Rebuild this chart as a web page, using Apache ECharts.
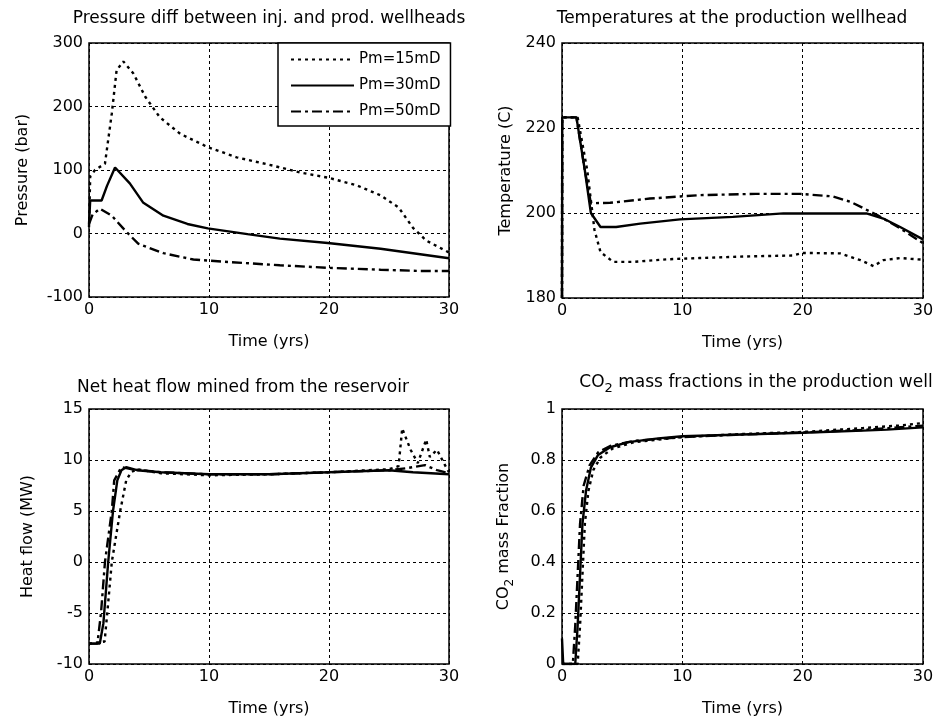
<!DOCTYPE html>
<html>
<head>
<meta charset="utf-8">
<script src="https://cdn.jsdelivr.net/npm/echarts@6/dist/echarts.min.js"></script>
<style>
  html, body { margin: 0; padding: 0; background: #fff; }
  #chart { width: 939px; height: 724px; }
</style>
</head>
<body>
<div id="chart"></div>
<script>
var chartDom = document.getElementById('chart');
var myChart = echarts.init(chartDom);
var option;

// legend names
var names = ['Pm=15mD', 'Pm=30mD', 'Pm=50mD'];

// pressure diff (bar) vs time (yrs)
var press15 = [[0, 10], [0.1, 90], [0.5, 100], [1.33, 110], [1.9, 189], [2.3, 257], [2.86, 271], [3.7, 252], [4.7, 215], [5.9, 183], [7.6, 157], [9.9, 136], [12.3, 120], [15.3, 107], [17.6, 96], [19.9, 88], [22.3, 76], [24.3, 60], [25.8, 41], [27, 9], [28.1, -11], [30, -30]];
var press30 = [[0, 15], [0.1, 52], [1.05, 52], [1.5, 75], [2.17, 104], [3.4, 79], [4.5, 49], [6.2, 28], [8.2, 15], [9.9, 8], [13.2, -1], [15.9, -8], [19.9, -15], [24.3, -24], [30, -39]];
var press50 = [[0, 15], [0.3, 30], [0.9, 39], [1.9, 28], [3, 5], [4.1, -16], [6.2, -31], [8.7, -41], [11.7, -45], [15.9, -50], [19.9, -54], [24.3, -57], [27.6, -59], [30, -59]];

// production wellhead temperature (C)
var temp15 = [[0, 180], [0.02, 222.5], [1.3, 222.5], [2.1, 210], [2.7, 196], [3.2, 190.8], [4.25, 188.5], [5.9, 188.5], [8.7, 189.1], [11.4, 189.4], [15.6, 189.8], [19.2, 190], [20, 190.6], [23.1, 190.5], [24.8, 188.9], [25.9, 187.5], [26.7, 188.9], [28.1, 189.4], [30, 189]];
var temp30 = [[0, 180], [0.02, 222.5], [1.2, 222.5], [1.9, 210], [2.4, 200], [3.2, 196.7], [4.5, 196.7], [6.5, 197.5], [9.8, 198.5], [14.2, 199.1], [18.4, 199.9], [25.3, 199.9], [26.7, 198.7], [28.1, 196.7], [30, 193.8]];
var temp50 = [[0, 180], [0.02, 222.5], [1.2, 222.5], [1.9, 210], [2.4, 202.3], [4, 202.4], [7.3, 203.4], [11.4, 204.2], [16.1, 204.5], [19.8, 204.5], [22.5, 203.9], [24, 202.6], [26.2, 199.5], [28.1, 196.4], [30, 192.9]];

// net heat flow (MW)
var heat15 = [[0, -8], [1.3, -7.8], [1.6, -4], [1.9, 0], [2.6, 5], [3.1, 8], [3.5, 8.8], [4, 9.1], [6, 8.7], [10, 8.5], [15, 8.6], [20, 8.8], [25, 9.1], [25.8, 9.4], [26.1, 13.1], [26.8, 11], [27.4, 9.7], [28.1, 12], [28.4, 10.3], [29, 11], [29.8, 9.2], [30, 8.8]];
var heat30 = [[0, -8], [0.9, -8], [1.2, -6], [1.4, -3], [1.6, 0], [2, 5], [2.36, 8], [2.7, 9], [3.1, 9.3], [4, 9], [6, 8.8], [10, 8.6], [15, 8.6], [20, 8.8], [25, 9], [27, 8.8], [30, 8.6]];
var heat50 = [[0, -8], [0.7, -8], [1, -5], [1.33, 0], [1.9, 5], [2.1, 8], [2.7, 9.3], [3.5, 9.1], [6, 8.8], [10, 8.6], [15, 8.6], [20, 8.8], [25, 9], [26.5, 9.2], [28, 9.5], [29, 9], [30, 8.7]];

// CO2 mass fraction
var co2_15 = [[0, 0], [1.3, 0], [1.5, 0.15], [1.7, 0.35], [1.9, 0.55], [2.2, 0.68], [2.6, 0.76], [3.2, 0.81], [4.2, 0.845], [6, 0.87], [10, 0.89], [15, 0.902], [20, 0.91], [25, 0.925], [28, 0.935], [30, 0.945]];
var co2_30 = [[0, 0.1], [0.1, 0], [1.1, 0], [1.3, 0.15], [1.5, 0.35], [1.7, 0.55], [2, 0.68], [2.4, 0.77], [3, 0.82], [4, 0.85], [5.5, 0.87], [8, 0.885], [10, 0.893], [15, 0.9], [20, 0.907], [25, 0.915], [27, 0.919], [30, 0.928]];
var co2_50 = [[0, 0], [0.9, 0], [1.1, 0.15], [1.3, 0.35], [1.5, 0.55], [1.8, 0.7], [2.3, 0.78], [3, 0.83], [4, 0.855], [6, 0.875], [10, 0.89], [15, 0.9], [20, 0.908], [25, 0.918], [30, 0.935]];

var font = 'DejaVu Sans';
var dashStyles = [[3, 4], 'solid', [10, 4, 3, 4]];

function mkSeries(idx, sets) {
  return sets.map(function (d, i) {
    return {
      name: names[i],
      type: 'line',
      xAxisIndex: idx,
      yAxisIndex: idx,
      data: d,
      symbol: 'none',
      color: '#000',
      lineStyle: { color: '#000', width: 2.4, type: dashStyles[i] },
      silent: true,
      animation: false
    };
  });
}

function xAx(idx) {
  return {
    type: 'value', gridIndex: idx, min: 0, max: 30, interval: 10,
    name: 'Time (yrs)', nameLocation: 'middle', nameGap: 37,
    nameTextStyle: { color: '#000', fontSize: 16, fontFamily: font },
    axisLine: { show: false },
    axisTick: { show: false },
    axisLabel: { color: '#000', fontSize: 16, fontFamily: font, margin: 5 },
    splitLine: { show: true, lineStyle: { color: '#000', type: [3, 3], width: 1 } }
  };
}

function yAx(idx, name, min, max, interval, gap, fmt) {
  return {
    type: 'value', gridIndex: idx, min: min, max: max, interval: interval,
    name: name, nameLocation: 'middle', nameRotate: 90, nameGap: gap,
    nameTextStyle: { color: '#000', fontSize: 16, fontFamily: font,
      rich: { sub: { fontSize: 12, fontFamily: font, color: '#000', padding: [12, 0, 0, 0] } } },
    axisLine: { show: false },
    axisTick: { show: false },
    axisLabel: { color: '#000', fontSize: 16, fontFamily: font, margin: 6, formatter: fmt },
    splitLine: { show: true, lineStyle: { color: '#000', type: [3, 3], width: 1 } }
  };
}

var gridStyle = { show: true, borderColor: '#000', borderWidth: 1.5, backgroundColor: '#fff' };
var titleStyle = { color: '#000', fontSize: 17, fontWeight: 'normal', fontFamily: font,
  rich: { sub: { fontSize: 13, fontFamily: font, color: '#000', padding: [12, 0, 0, 0] } } };

option = {
  backgroundColor: '#fff',
  animation: false,
  title: [
    { text: 'Pressure diff between inj. and prod. wellheads', left: 264, top: 5, textAlign: 'center', textStyle: titleStyle },
    { text: 'Temperatures at the production wellhead', left: 727, top: 5, textAlign: 'center', textStyle: titleStyle },
    { text: 'Net heat flow mined from the reservoir', left: 238, top: 374, textAlign: 'center', textStyle: titleStyle },
    { text: 'CO{sub|2} mass fractions in the production well', left: 751, top: 365, textAlign: 'center', textStyle: titleStyle }
  ],
  legend: {
    data: names,
    orient: 'vertical',
    left: 278,
    top: 43,
    itemWidth: 63,
    itemHeight: 10,
    itemGap: 11,
    padding: [9, 10, 7, 12],
    borderColor: '#000',
    borderWidth: 1.5,
    backgroundColor: '#fff',
    selectedMode: false,
    itemStyle: { opacity: 0 },
    textStyle: { color: '#000', fontSize: 15, fontFamily: font },
    z: 10
  },
  grid: [
    Object.assign({ left: 89, top: 43, width: 360, height: 254 }, gridStyle),
    Object.assign({ left: 562, top: 43, width: 361, height: 255 }, gridStyle),
    Object.assign({ left: 89, top: 409, width: 360, height: 255 }, gridStyle),
    Object.assign({ left: 562, top: 409, width: 361, height: 255 }, gridStyle)
  ],
  xAxis: [xAx(0), xAx(1), xAx(2), xAx(3)],
  yAxis: [
    yAx(0, 'Pressure (bar)', -100, 300, 100, 58),
    yAx(1, 'Temperature (C)', 180, 240, 20, 48),
    yAx(2, 'Heat flow (MW)', -10, 15, 5, 53),
    yAx(3, 'CO{sub|2} mass Fraction', 0, 1, 0.2, 46, function (v) { return v === 0 ? '0' : v === 1 ? '1' : String(v); })
  ],
  series: [].concat(
    mkSeries(0, [press15, press30, press50]),
    mkSeries(1, [temp15, temp30, temp50]),
    mkSeries(2, [heat15, heat30, heat50]),
    mkSeries(3, [co2_15, co2_30, co2_50])
  )
};

option && myChart.setOption(option);
</script>
</body>
</html>
